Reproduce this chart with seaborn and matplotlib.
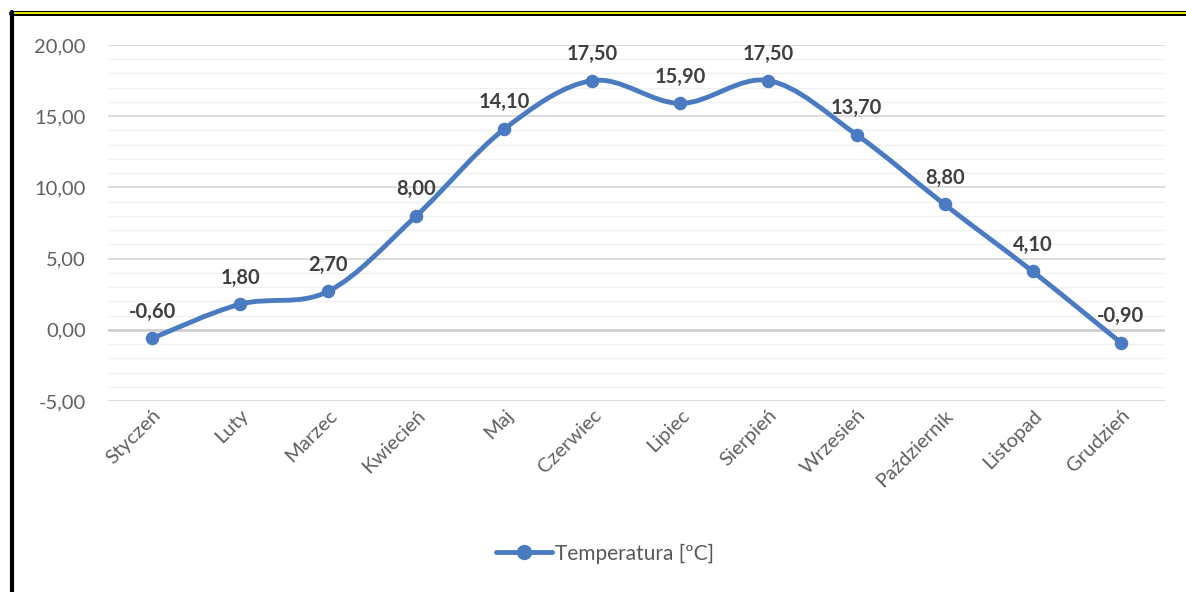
import numpy as np
import pandas as pd
import seaborn as sb
import matplotlib.pyplot as plt
from matplotlib.path import Path
from matplotlib.patches import PathPatch
from matplotlib.lines import Line2D
from matplotlib.ticker import MultipleLocator, FuncFormatter

months = ['Styczeń', 'Luty', 'Marzec', 'Kwiecień', 'Maj', 'Czerwiec', 'Lipiec',
          'Sierpień', 'Wrzesień', 'Październik', 'Listopad', 'Grudzień']
temperature = [-0.6, 1.8, 2.7, 8.0, 14.1, 17.5, 15.9, 17.5, 13.7, 8.8, 4.1, -0.9]
series_name = 'Temperatura [ºC]'

data = pd.DataFrame({'miesiac': months, 'temp': temperature})
data['x'] = np.arange(len(months))

sb.set_style('white')
plt.rcParams['font.family'] = ['Lato', 'DejaVu Sans']

blue = '#4A7BC0'

fig = plt.figure(figsize=(11.86, 5.92), dpi=100)
ax = fig.add_axes([0.0911, 0.3226, 0.891, 0.6014])

# wygladzona linia jak w Excelu (krzywe Beziera z punktow danych)
pts = data[['x', 'temp']].to_numpy(dtype=float)
verts = [tuple(pts[0])]
codes = [Path.MOVETO]
n = len(pts)
for i in range(n - 1):
    p0 = pts[i - 1] if i > 0 else pts[i]
    p1 = pts[i]
    p2 = pts[i + 1]
    p3 = pts[i + 2] if i + 2 < n else pts[i + 1]
    c1 = p1 + (p2 - p0) / 6
    c2 = p2 - (p3 - p1) / 6
    verts += [tuple(c1), tuple(c2), tuple(p2)]
    codes += [Path.CURVE4] * 3
ax.add_patch(PathPatch(Path(verts, codes), facecolor='none', edgecolor=blue,
                       lw=3.5, capstyle='round', joinstyle='round', zorder=3))

sb.scatterplot(x='x', y='temp', data=data, ax=ax, color=blue, s=95,
               edgecolor=blue, linewidth=0, zorder=4, legend=False)

for xi, yi in zip(data['x'], data['temp']):
    ax.annotate(f'{yi:.2f}'.replace('.', ','), (xi, yi), xytext=(0, 12),
                textcoords='offset points', ha='center', va='bottom',
                fontsize=14.5, fontweight='bold', color='#404040')

ax.set_xlim(-0.5, len(months) - 0.5)
ax.set_ylim(-5, 20)
ax.yaxis.set_major_locator(MultipleLocator(5))
ax.yaxis.set_minor_locator(MultipleLocator(1))
ax.yaxis.set_major_formatter(FuncFormatter(lambda v, p: f'{v:.2f}'.replace('.', ',')))
ax.grid(which='major', axis='y', color='#D9D9D9', lw=1.3)
ax.grid(which='minor', axis='y', color='#F0F0F0', lw=1.0)
ax.axhline(0, color='#D0D0D0', lw=2.0, zorder=1)
ax.set_axisbelow(True)
ax.set_xticks(data['x'])
ax.set_xticklabels(months, rotation=45, ha='right', rotation_mode='anchor')
ax.tick_params(axis='both', length=0, labelsize=14.5, labelcolor='#606060')
ax.tick_params(axis='x', pad=4)
ax.tick_params(axis='y', pad=16)
ax.set_xlabel('')
ax.set_ylabel('')
for s in ax.spines.values():
    s.set_visible(False)

handle = Line2D([0], [0], color=blue, lw=3.5, marker='o', markersize=10)
fig.legend([handle], [series_name], loc='center', bbox_to_anchor=(0.51, 0.065),
           frameon=False, fontsize=15, labelcolor='#595959', handlelength=2.7,
           handletextpad=0.1)

# ramka
fig.add_artist(Line2D([0.0093, 1.0], [0.9775, 0.9775], color='black', lw=3.6,
                      transform=fig.transFigure))
fig.add_artist(Line2D([0.0093, 1.0], [0.9775, 0.9775], color='#FFFF00', lw=1.3,
                      transform=fig.transFigure))
fig.add_artist(Line2D([0.0097, 0.0097], [0.0, 0.979], color='black', lw=3.0,
                      transform=fig.transFigure))

fig.savefig('out.png', dpi=100, facecolor='white')
